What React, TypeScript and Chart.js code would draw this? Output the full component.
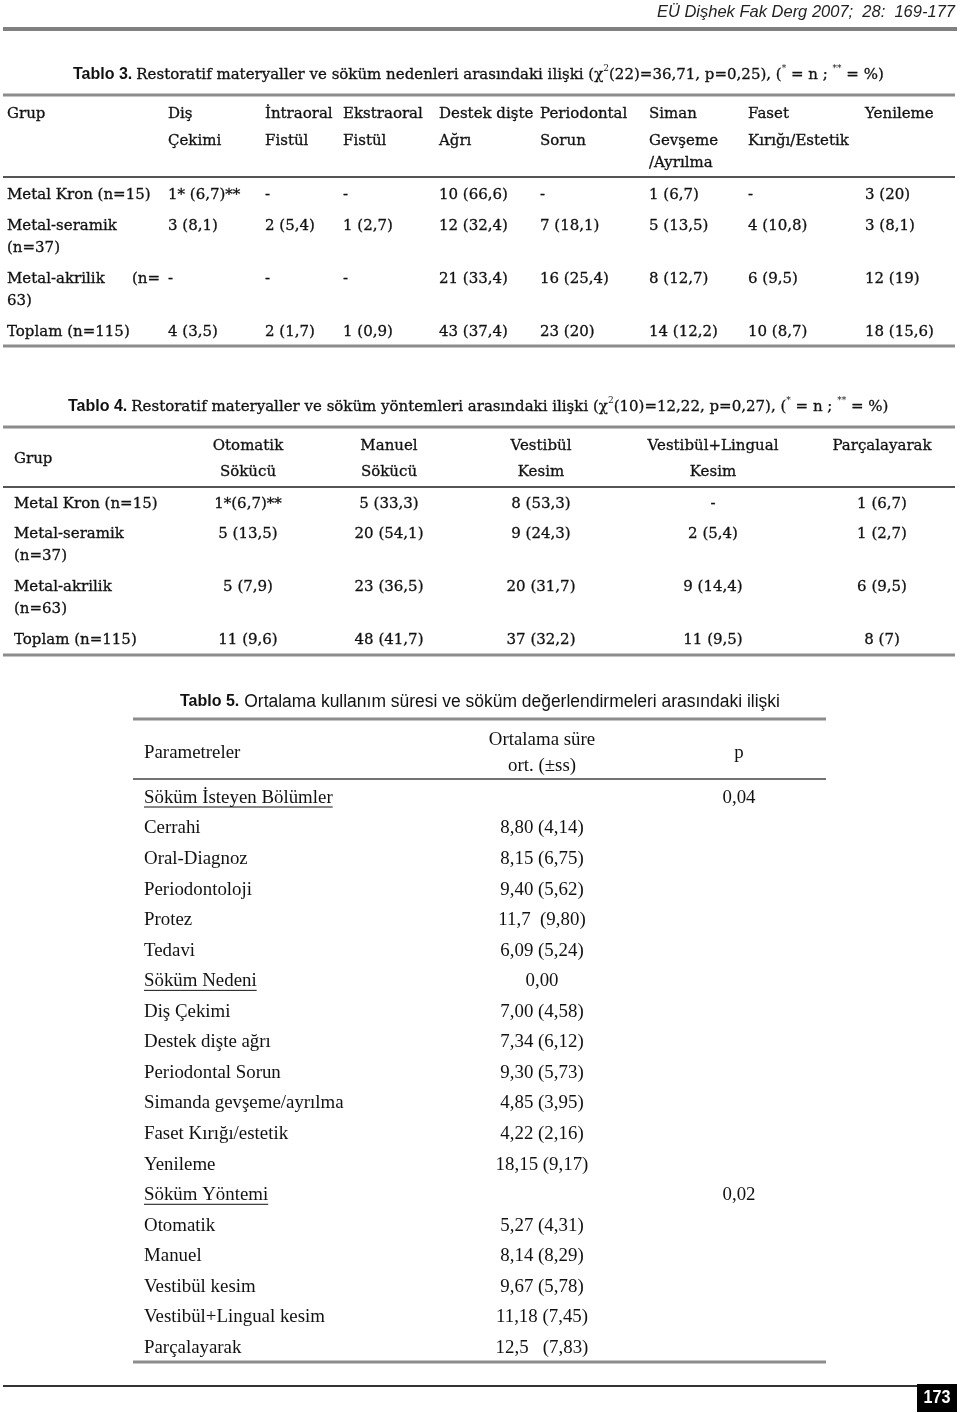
import React, { useEffect, useRef } from "react";
import { Chart, registerables } from "chart.js";
Chart.register(...registerables);

// ---------- data ----------
const pageHeader = "EÜ Dişhek Fak Derg 2007;  28:  169-177";
const pageNumber = "173";

// Tablo 3
const t3Label = "Tablo 3.";
const t3Caption = ["Restoratif materyaller ve söküm nedenleri arasındaki ilişki (χ", "2", "(22)=36,71, p=0,25), (", "*", " = n ; ", "**", " = %)"];
const t3Columns = [
  ["Diş", "Çekimi"],
  ["İntraoral", "Fistül"],
  ["Ekstraoral", "Fistül"],
  ["Destek dişte", "Ağrı"],
  ["Periodontal", "Sorun"],
  ["Siman", "Gevşeme", "/Ayrılma"],
  ["Faset", "Kırığı/Estetik"],
  ["Yenileme"],
];
const t3Groups = [
  ["Metal Kron (n=15)"],
  ["Metal-seramik", "(n=37)"],
  ["Metal-akrilik\t(n=", "63)"],
  ["Toplam (n=115)"],
];
const t3Values = [
  ["1* (6,7)**", "-", "-", "10 (66,6)", "-", "1 (6,7)", "-", "3 (20)"],
  ["3 (8,1)", "2 (5,4)", "1 (2,7)", "12 (32,4)", "7 (18,1)", "5 (13,5)", "4 (10,8)", "3 (8,1)"],
  ["-", "-", "-", "21 (33,4)", "16 (25,4)", "8 (12,7)", "6 (9,5)", "12 (19)"],
  ["4 (3,5)", "2 (1,7)", "1 (0,9)", "43 (37,4)", "23 (20)", "14 (12,2)", "10 (8,7)", "18 (15,6)"],
];

// Tablo 4
const t4Label = "Tablo 4.";
const t4Caption = ["Restoratif materyaller ve söküm yöntemleri arasındaki ilişki (χ", "2", "(10)=12,22, p=0,27), (", "*", " = n ; ", "**", " = %)"];
const t4Columns = [
  ["Otomatik", "Sökücü"],
  ["Manuel", "Sökücü"],
  ["Vestibül", "Kesim"],
  ["Vestibül+Lingual", "Kesim"],
  ["Parçalayarak"],
];
const t4Groups = [
  ["Metal Kron (n=15)"],
  ["Metal-seramik", "(n=37)"],
  ["Metal-akrilik", "(n=63)"],
  ["Toplam (n=115)"],
];
const t4Values = [
  ["1*(6,7)**", "5 (33,3)", "8 (53,3)", "-", "1 (6,7)"],
  ["5 (13,5)", "20 (54,1)", "9 (24,3)", "2 (5,4)", "1 (2,7)"],
  ["5 (7,9)", "23 (36,5)", "20 (31,7)", "9 (14,4)", "6 (9,5)"],
  ["11 (9,6)", "48 (41,7)", "37 (32,2)", "11 (9,5)", "8 (7)"],
];

// Tablo 5
const t5Label = "Tablo 5.";
const t5Caption = "Ortalama kullanım süresi ve söküm değerlendirmeleri arasındaki ilişki";
const t5Header = ["Parametreler", "Ortalama süre", "ort. (±ss)", "p"];
const t5Params = [
  "Söküm İsteyen Bölümler", "Cerrahi", "Oral-Diagnoz", "Periodontoloji", "Protez", "Tedavi",
  "Söküm Nedeni", "Diş Çekimi", "Destek dişte ağrı", "Periodontal Sorun", "Simanda gevşeme/ayrılma",
  "Faset Kırığı/estetik", "Yenileme",
  "Söküm Yöntemi", "Otomatik", "Manuel", "Vestibül kesim", "Vestibül+Lingual kesim", "Parçalayarak",
];
const t5Sections = [true, false, false, false, false, false, true, false, false, false, false, false, false, true, false, false, false, false, false];
const t5Means = [
  "", "8,80 (4,14)", "8,15 (6,75)", "9,40 (5,62)", "11,7  (9,80)", "6,09 (5,24)",
  "0,00", "7,00 (4,58)", "7,34 (6,12)", "9,30 (5,73)", "4,85 (3,95)", "4,22 (2,16)", "18,15 (9,17)",
  "", "5,27 (4,31)", "8,14 (8,29)", "9,67 (5,78)", "11,18 (7,45)", "12,5   (7,83)",
];
const t5P = ["0,04", "", "", "", "", "", "", "", "", "", "", "", "", "0,02", "", "", "", "", ""];

// ---------- styles ----------
const INK = "#111";
const F_BODY = "15px 'DejaVu Serif'";
const F_SUP = "9px 'DejaVu Serif'";
const F_BOLD = "bold 16px 'Liberation Sans'";
const F_T5 = "18.5px 'Liberation Serif'";
const F_T5CAP = "18px 'Liberation Sans'";
const F_HEAD = "italic 16.5px 'Liberation Sans'";

const pagePlugin = {
  id: "pageTables",
  afterDraw(chart: any) {
    const ctx: CanvasRenderingContext2D = chart.ctx;
    const X = (v: number) => chart.scales.x.getPixelForValue(v);
    const Y = (v: number) => chart.scales.y.getPixelForValue(v);

    const txt = (s: string, x: number, y: number, font: string, align: CanvasTextAlign = "left", sx = 1, color = INK, stroke = 0.3) => {
      ctx.save();
      ctx.font = font;
      ctx.fillStyle = color;
      ctx.strokeStyle = color;
      ctx.lineWidth = stroke;
      ctx.textAlign = align;
      ctx.textBaseline = "middle";
      ctx.translate(X(x), Y(y));
      ctx.scale(sx, 1);
      ctx.fillText(s, 0, 0);
      if (stroke > 0) ctx.strokeText(s, 0, 0);
      const w = ctx.measureText(s).width * sx;
      ctx.restore();
      return w;
    };
    const rule = (x1: number, x2: number, y: number, w: number, color: string) => {
      ctx.save();
      ctx.fillStyle = color;
      ctx.fillRect(X(x1), Y(y) - w / 2, X(x2) - X(x1), w);
      ctx.restore();
    };
    const caption = (label: string, parts: string[], x: number, y: number) => {
      let cx = x + txt(label, x, y, F_BOLD, "left", 1, INK, 0) + 4;
      parts.forEach((p) => {
        const sup = p === "2" || p === "*" || p === "**";
        cx += txt(p, cx, sup ? y - 6 : y, sup ? F_SUP : F_BODY, "left", 1, INK, sup ? 0 : 0.3);
      });
    };

    // page header
    txt(pageHeader, 955, 12, F_HEAD, "right", 1, "#222", 0);
    rule(3, 957, 29, 4, "#808080");

    // ---------- Tablo 3 ----------
    caption(t3Label, t3Caption, 73, 75);
    rule(3, 955, 95, 3, "#8c8c8c");
    const t3X = [168, 265, 343, 439, 540, 649, 748, 865];
    const t3HeadY = [114, 141, 163];
    txt("Grup", 7, t3HeadY[0], F_BODY);
    t3Columns.forEach((lines, c) => lines.forEach((l, i) => txt(l, t3X[c], t3HeadY[i], F_BODY)));
    rule(3, 955, 177, 2, "#555");
    const t3RowY = [195, 226, 279, 332];
    t3Groups.forEach((lines, r) =>
      lines.forEach((l, i) => {
        const y = t3RowY[r] + i * 22;
        if (l.includes("\t")) {
          const [a, b] = l.split("\t");
          txt(a, 7, y, F_BODY);
          txt(b, 160, y, F_BODY, "right");
        } else txt(l, 7, y, F_BODY);
      })
    );
    t3Values.forEach((row, r) => row.forEach((v, c) => txt(v, t3X[c], t3RowY[r], F_BODY)));
    rule(3, 955, 346, 3, "#8c8c8c");

    // ---------- Tablo 4 ----------
    caption(t4Label, t4Caption, 68, 407);
    rule(3, 955, 427, 3, "#8c8c8c");
    const t4X = [248, 389, 541, 713, 882];
    const t4HeadY = [446, 472];
    txt("Grup", 14, 459, F_BODY);
    t4Columns.forEach((lines, c) => lines.forEach((l, i) => txt(l, t4X[c], t4HeadY[i], F_BODY, "center")));
    rule(3, 955, 487, 2, "#555");
    const t4RowY = [504, 534, 587, 640];
    t4Groups.forEach((lines, r) => lines.forEach((l, i) => txt(l, 14, t4RowY[r] + i * 22, F_BODY)));
    t4Values.forEach((row, r) => row.forEach((v, c) => txt(v, t4X[c], t4RowY[r], F_BODY, "center")));
    rule(3, 955, 655, 3, "#8c8c8c");

    // ---------- Tablo 5 ----------
    {
      const w = txt(t5Label, 180, 702, F_BOLD, "left", 1, INK, 0);
      txt(t5Caption, 180 + w + 5, 702, F_T5CAP, "left", 0.97, INK, 0);
    }
    rule(133, 826, 719, 3, "#8c8c8c");
    txt(t5Header[0], 144, 753, F_T5, "left", 1.02, INK, 0);
    txt(t5Header[1], 542, 740, F_T5, "center", 1.02, INK, 0);
    txt(t5Header[2], 542, 766, F_T5, "center", 1.02, INK, 0);
    txt(t5Header[3], 739, 753, F_T5, "center", 1.02, INK, 0);
    rule(133, 826, 779, 1.5, "#444");
    const t5Y0 = 798;
    const t5Step = 30.56;
    t5Params.forEach((p, i) => {
      const y = t5Y0 + i * t5Step;
      const w = txt(p, 144, y, F_T5, "left", 1.02, INK, 0);
      if (t5Sections[i]) rule(144, 144 + w, y + 9, 1, INK);
      if (t5Means[i]) txt(t5Means[i], 542, y, F_T5, "center", 1.02, INK, 0);
      if (t5P[i]) txt(t5P[i], 739, y, F_T5, "center", 1.02, INK, 0);
    });
    rule(133, 826, 1362, 3, "#8c8c8c");

    // page footer
    rule(3, 917, 1386, 2, "#333");
    ctx.save();
    ctx.fillStyle = "#000";
    ctx.fillRect(X(917), Y(1384), X(957) - X(917), Y(1412) - Y(1384));
    ctx.restore();
    txt(pageNumber, 937, 1398, "bold 19px 'Liberation Sans'", "center", 0.85, "#fff", 0);
  },
};

export default function App() {
  const ref = useRef<HTMLCanvasElement>(null);
  useEffect(() => {
    if (!ref.current) return;
    const chart = new Chart(ref.current, {
      type: "scatter",
      data: { datasets: [{ data: [] }] },
      options: {
        animation: false,
        responsive: true,
        maintainAspectRatio: false,
        layout: { padding: 0 },
        scales: {
          x: { type: "linear", min: 0, max: 960, display: false },
          y: { type: "linear", min: 0, max: 1413, reverse: true, display: false },
        },
        plugins: { legend: { display: false }, tooltip: { enabled: false } },
      },
      plugins: [pagePlugin],
    } as any);
    return () => chart.destroy();
  }, []);
  return (
    <div style={{ position: "absolute", left: 0, top: 0, width: 960, height: 1413, background: "#fff" }}>
      <canvas ref={ref} />
    </div>
  );
}
